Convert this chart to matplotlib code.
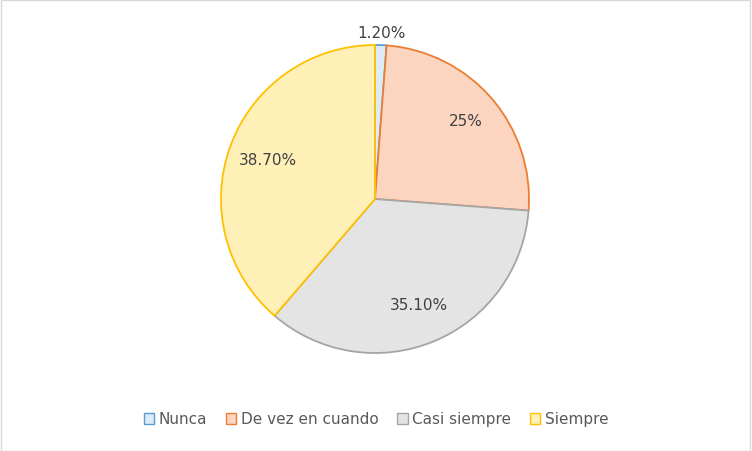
import matplotlib.pyplot as plt
import numpy as np
from matplotlib.patches import Rectangle

categories = ["Nunca", "De vez en cuando", "Casi siempre", "Siempre"]
values = [1.2, 25, 35.1, 38.7]
value_labels = ["1.20%", "25%", "35.10%", "38.70%"]

fill_colors = ["#DDEBF7", "#FBD5BF", "#E4E4E4", "#FFF0B8"]
edge_colors = ["#5B9BD5", "#ED7D31", "#A5A5A5", "#FFC000"]
# label distance as fraction of radius
label_dist = [1.08, 0.78, 0.74, 0.74]

fig = plt.figure(figsize=(7.52, 4.52), dpi=100)
fig.patches.append(Rectangle((0.001, 0.001), 0.997, 0.997, transform=fig.transFigure,
                             fill=False, edgecolor="#D9D9D9", linewidth=1))
ax = fig.add_axes([221 / 752, 98 / 452, 308 / 752, 308 / 452])

wedges, _ = ax.pie(values, startangle=90, counterclock=False, colors=fill_colors,
                   wedgeprops=dict(linewidth=1.3))
for w, ec in zip(wedges, edge_colors):
    w.set_edgecolor(ec)

for w, lab, d in zip(wedges, value_labels, label_dist):
    ang = np.deg2rad((w.theta1 + w.theta2) / 2)
    ax.text(d * np.cos(ang), d * np.sin(ang), lab, ha="center", va="center",
            fontsize=11, color="#404040")
ax.set_xlim(-1, 1)
ax.set_ylim(-1, 1)
ax.set_aspect("equal")

handles = [Rectangle((0, 0), 1, 1, facecolor=f, edgecolor=e) for f, e in zip(fill_colors, edge_colors)]
fig.legend(handles, categories, loc="center", bbox_to_anchor=(0.5, 1 - 420 / 452),
           ncol=4, frameon=False, fontsize=11, handlelength=0.7, handleheight=0.7,
           handletextpad=0.3, columnspacing=1.2, labelcolor="#595959")

fig.savefig("out.png", dpi=100)
